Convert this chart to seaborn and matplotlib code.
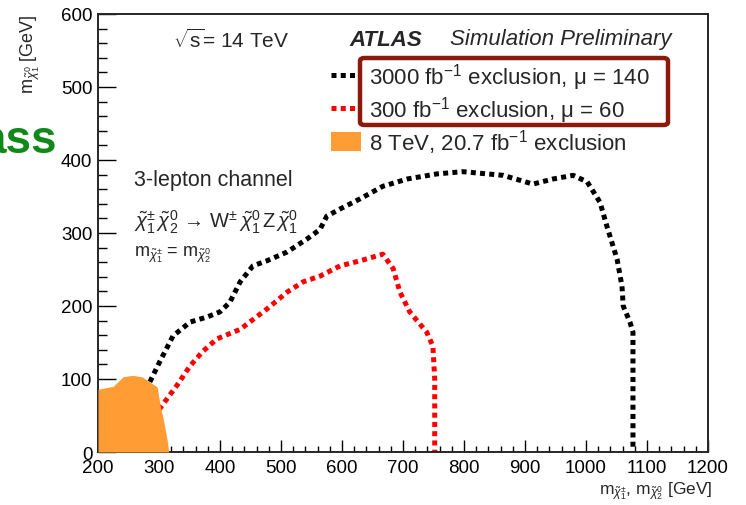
import numpy as np
import pandas as pd
import matplotlib
matplotlib.use("Agg")
import matplotlib.pyplot as plt
import seaborn as sns
from matplotlib.lines import Line2D
from matplotlib.patches import Patch, FancyBboxPatch

# ---------------- data ----------------
black_x = [285, 302, 323, 351, 379, 400, 416, 433, 454, 477, 510, 543, 564, 575, 597, 630,
           667, 707, 756, 798, 864, 913, 946, 979, 1002, 1023, 1034, 1051, 1059, 1061, 1072,
           1077, 1077]
black_y = [96, 125, 159, 178, 185, 192, 205, 233, 255, 262, 274, 292, 305, 323, 333, 347,
           364, 374, 381, 384, 379, 367, 374, 379, 370, 342, 310, 264, 227, 200, 178,
           164, 0]

red_x = [300, 330, 351, 372, 395, 433, 477, 510, 536, 564, 597, 630, 667, 684, 695, 711,
         739, 749, 752, 752]
red_y = [58, 92, 118, 138, 155, 168, 196, 219, 233, 241, 255, 262, 271, 251, 219, 192,
         164, 145, 100, 0]

orange_x = [200, 225, 241, 257, 272, 285, 297, 302, 307, 313, 316]
orange_y = [86, 90, 103, 105, 103, 96, 89, 63, 45, 18, 0]

x_ticks = [200, 300, 400, 500, 600, 700, 800, 900, 1000, 1100, 1200]
y_ticks = [0, 100, 200, 300, 400, 500, 600]

legend_labels = ["3000 fb$^{-1}$ exclusion, μ = 140",
                 "300 fb$^{-1}$ exclusion, μ = 60",
                 "8 TeV, 20.7 fb$^{-1}$ exclusion"]

# ---------------- style ----------------
sns.set_style("ticks")
plt.rcParams["font.family"] = ["Liberation Sans", "DejaVu Sans"]
plt.rcParams["mathtext.fontset"] = "custom"
plt.rcParams["mathtext.rm"] = "Liberation Sans"
plt.rcParams["mathtext.it"] = "Liberation Sans:italic"
plt.rcParams["mathtext.bf"] = "Liberation Sans:bold"

W, H = 746, 506
fig = plt.figure(figsize=(W / 100, H / 100), dpi=100)
ax = fig.add_axes([98 / W, 1 - 453 / H, 610 / W, 438 / H])

df_b = pd.DataFrame({"x": black_x, "y": black_y})
df_r = pd.DataFrame({"x": red_x, "y": red_y})

dots = (0, (1.0, 0.85))
sns.lineplot(data=df_b, x="x", y="y", sort=False, estimator=None, ax=ax,
             color="black", lw=3.6, linestyle=dots, zorder=2)
sns.lineplot(data=df_r, x="x", y="y", sort=False, estimator=None, ax=ax,
             color="#ff0000", lw=3.6, linestyle=dots, zorder=2)
ax.fill_between(orange_x, 0, orange_y, color="#ff9c33", lw=0, zorder=3)

ax.set_xlim(200, 1200)
ax.set_ylim(0, 600)
ax.set_xticks(x_ticks)
ax.set_yticks(y_ticks)
ax.set_xticks(np.arange(200, 1201, 20), minor=True)
ax.set_yticks(np.arange(0, 601, 20), minor=True)
ax.tick_params(axis="both", which="both", direction="in", width=1.0, colors="black",
               labelsize=13.5)
ax.tick_params(axis="x", which="major", length=9, pad=5)
ax.tick_params(axis="x", which="minor", length=4.5)
ax.tick_params(axis="y", which="major", length=13, pad=4)
ax.tick_params(axis="y", which="minor", length=6.5)
for s in ax.spines.values():
    s.set_linewidth(1.4)
    s.set_visible(True)
ax.set_xlabel("")
ax.set_ylabel("")

# axis titles
fig.text(712 / W, 1 - 491 / H,
         r"m$_{\tilde{\chi}^{\pm}_{1}}$, m$_{\tilde{\chi}^{0}_{2}}$ [GeV]",
         ha="right", va="center", fontsize=12.5)
fig.text(30 / W, 1 - 14 / H, r"m$_{\tilde{\chi}^{0}_{1}}$ [GeV]", rotation=90,
         ha="center", va="top", fontsize=13)

# texts inside the plot
fig.text(173 / W, 1 - 40 / H, r"$\sqrt{\mathrm{s}}$= 14 TeV", ha="left", va="center",
         fontsize=15)
fig.text(349 / W, 1 - 40 / H, "ATLAS", ha="left", va="center", fontsize=16,
         fontweight="bold", fontstyle="italic")
fig.text(450 / W, 1 - 40 / H, "Simulation Preliminary", ha="left", va="center",
         fontsize=16, fontstyle="italic")
fig.text(134 / W, 1 - 181 / H, "3-lepton channel", ha="left", va="center", fontsize=15.5)
fig.text(134 / W, 1 - 222 / H,
         r"$\tilde{\chi}^{\pm}_{1}\,\tilde{\chi}^{0}_{2}\,\rightarrow\,\mathrm{W}^{\pm}\,"
         r"\tilde{\chi}^{0}_{1}\,\mathrm{Z}\,\tilde{\chi}^{0}_{1}$",
         ha="left", va="center", fontsize=14.5)
fig.text(134 / W, 1 - 255 / H,
         r"m$_{\tilde{\chi}^{\pm}_{1}}$ = m$_{\tilde{\chi}^{0}_{2}}$",
         ha="left", va="center", fontsize=13)

# legend
handles = [Line2D([0], [0], color="black", lw=3.6, linestyle=dots),
           Line2D([0], [0], color="#ff0000", lw=3.6, linestyle=dots),
           Patch(facecolor="#ff9c33", edgecolor="none")]
ax.legend(handles, legend_labels, loc="upper left",
          bbox_to_anchor=(331 / W, 1 - 62 / H), bbox_transform=fig.transFigure,
          frameon=False, fontsize=16, handlelength=1.35, handleheight=0.9,
          handletextpad=0.35, labelspacing=0.09, borderpad=0, borderaxespad=0)

# slide annotation: rounded box and cut-off green word
box = FancyBboxPatch((360 / W, 1 - 126 / H), 308 / W, 67 / H,
                     boxstyle="round,pad=0,rounding_size=0.006",
                     transform=fig.transFigure, facecolor="none",
                     edgecolor="#8b1a0c", lw=3.2, zorder=10)
fig.patches.append(box)
fig.text(57 / W, 1 - 141 / H, "ass", ha="right", va="center", fontsize=33,
         fontweight="bold", color="#11881a")

fig.savefig("out.png", dpi=100)
